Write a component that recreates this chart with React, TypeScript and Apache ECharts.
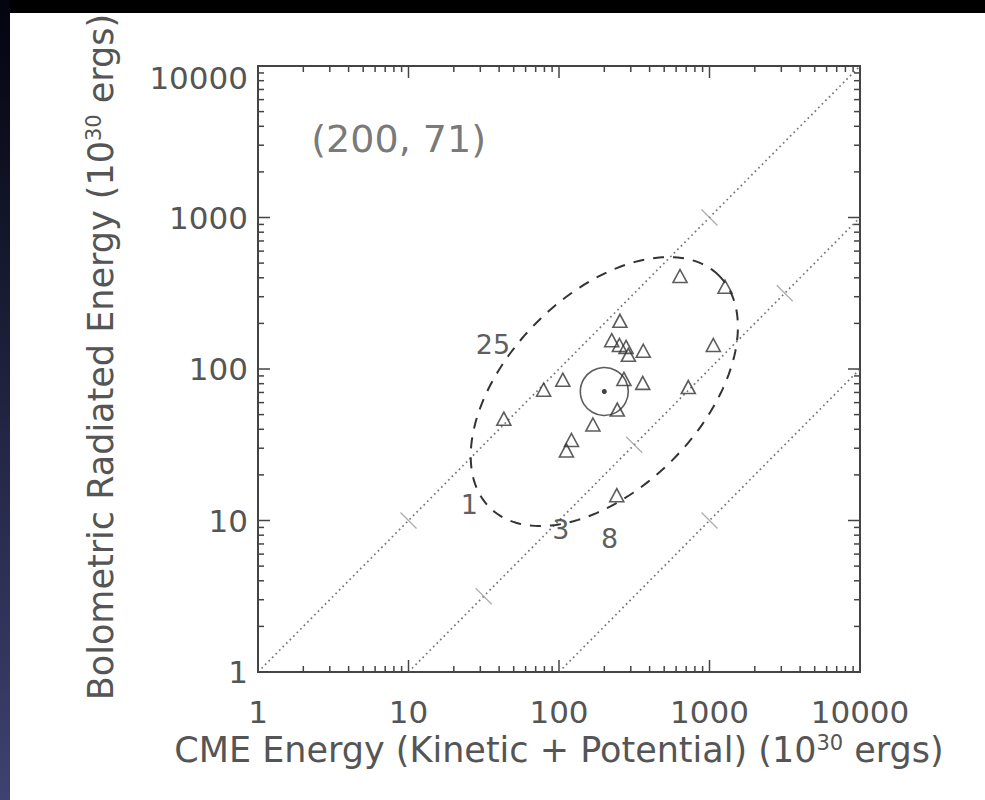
import React, { useEffect, useRef } from "react";
import * as echarts from "echarts";

// ---- axes ----
const X_TICK_VALUES = [1, 10, 100, 1000, 10000];
const Y_TICK_VALUES = [1, 10, 100, 1000, 10000];
const MINOR_MULTIPLIERS = [2, 3, 4, 5, 6, 7, 8, 9];
const DECADE_STARTS = [1, 10, 100, 1000];

// ---- events (10^30 ergs) ----
const CME_ENERGY = [43, 79, 106, 121, 112, 168, 244, 270, 360, 723, 254, 224, 252, 279, 289, 363, 637, 1268, 1060, 242];
const RADIATED_ENERGY = [47, 73, 85, 34, 29, 43, 54, 86, 81, 76, 208, 155, 144, 140, 124, 132, 411, 349, 144, 14.7];

// ---- mean ----
const MEAN_POINT = [200, 71];
const MEAN_LABEL = "(200, 71)";
const MEAN_LABEL_POS = [8.6, 3300];

// ---- ratio lines ----
const LINE_RATIO_1 = [[1, 1], [10000, 10000]];
const LINE_RATIO_10 = [[10, 1], [10000, 1000]];
const LINE_RATIO_100 = [[100, 1], [10000, 100]];
const CROSS_X = [10, 1000, 31.6, 316, 3162, 1000];
const CROSS_Y = [10, 1000, 3.16, 31.6, 316, 10];

// ---- numeric annotations ----
const NUMBER_LABELS = ["25", "1", "3", "8"];
const NUMBER_LABEL_X = [36.4, 25.4, 103, 217];
const NUMBER_LABEL_Y = [145, 12.7, 8.66, 7.66];

// ---- ellipse (in decades) ----
const ELLIPSE_SEMI_MAJOR = 1.08;
const ELLIPSE_SEMI_MINOR = 0.64;
const ELLIPSE_ANGLE_DEG = 45;

const FONT = "DejaVu Sans";
const TEXT_COLOR = "#555";
const INK = "#333";

export default function App() {
  const ref = useRef<HTMLDivElement>(null);

  useEffect(() => {
    if (!ref.current) return;
    const chart = echarts.init(ref.current, undefined, { renderer: "svg" });

    const minorTicks: number[] = [];
    DECADE_STARTS.forEach((d) => MINOR_MULTIPLIERS.forEach((m) => minorTicks.push(d * m)));

    const tickRender = (params: any, api: any) => {
      const cs = params.coordSys;
      const left = cs.x, top = cs.y, right = cs.x + cs.width, bottom = cs.y + cs.height;
      const children: any[] = [];
      const style = { stroke: "#444", lineWidth: 1.5 };
      const add = (x1: number, y1: number, x2: number, y2: number) =>
        children.push({ type: "line", shape: { x1, y1, x2, y2 }, style });
      const doX = (v: number, len: number) => {
        const px = api.coord([v, 1])[0];
        add(px, bottom, px, bottom - len);
        add(px, top, px, top + len);
      };
      const doY = (v: number, len: number) => {
        const py = api.coord([1, v])[1];
        add(left, py, left + len, py);
        add(right, py, right - len, py);
      };
      X_TICK_VALUES.forEach((v) => doX(v, 12));
      Y_TICK_VALUES.forEach((v) => doY(v, 12));
      minorTicks.forEach((v) => { doX(v, 6); doY(v, 6); });
      return { type: "group", children };
    };

    const ellipseRender = (params: any, api: any) => {
      const cx = Math.log10(api.value(0));
      const cy = Math.log10(api.value(1));
      const phi = (ELLIPSE_ANGLE_DEG * Math.PI) / 180;
      const pts: number[][] = [];
      for (let deg = 0; deg < 360; deg += 2) {
        const t = (deg * Math.PI) / 180;
        const lx = cx + ELLIPSE_SEMI_MAJOR * Math.cos(t) * Math.cos(phi) - ELLIPSE_SEMI_MINOR * Math.sin(t) * Math.sin(phi);
        const ly = cy + ELLIPSE_SEMI_MAJOR * Math.cos(t) * Math.sin(phi) + ELLIPSE_SEMI_MINOR * Math.sin(t) * Math.cos(phi);
        pts.push(api.coord([Math.pow(10, lx), Math.pow(10, ly)]));
      }
      return {
        type: "polygon",
        shape: { points: pts },
        style: { fill: "none", stroke: INK, lineWidth: 2, lineDash: [11, 9] },
      };
    };

    const dotted = (data: number[][]) => ({
      type: "line",
      data,
      symbol: "none",
      silent: true,
      lineStyle: { color: "#777", width: 1.7, type: [1.7, 3.3] },
      z: 1,
    });

    const titleRich = {
      n: { fontFamily: FONT, fontSize: 35, color: TEXT_COLOR },
      s: { fontFamily: FONT, fontSize: 21, color: TEXT_COLOR, padding: [0, 0, 14, 0] },
    };

    const option: any = {
      animation: false,
      backgroundColor: "#ffffff",
      graphic: [
        { type: "rect", left: 0, top: 0, shape: { width: 985, height: 13 }, style: { fill: "#000" }, z: 100 },
        {
          type: "rect", left: 0, top: 0, shape: { width: 10, height: 800 },
          style: {
            fill: new echarts.graphic.LinearGradient(0, 0, 0, 1, [
              { offset: 0, color: "#03040f" },
              { offset: 1, color: "#3d4270" },
            ]),
          },
          z: 100,
        },
      ],
      grid: {
        left: 258, top: 66, width: 602, height: 606,
        show: true, borderColor: "#444", borderWidth: 2, backgroundColor: "transparent",
      },
      xAxis: {
        type: "log", logBase: 10, min: 1, max: 10000,
        axisLine: { show: false }, axisTick: { show: false }, splitLine: { show: false }, minorTick: { show: false },
        axisLabel: {
          fontFamily: FONT, fontSize: 31, color: TEXT_COLOR, margin: 24,
          formatter: (v: number) => String(v),
        },
        name: "{n|CME Energy (Kinetic + Potential) (10}{s|30}{n| ergs)}",
        nameLocation: "middle", nameGap: 60,
        nameTextStyle: { rich: titleRich },
      },
      yAxis: {
        type: "log", logBase: 10, min: 1, max: 10000,
        axisLine: { show: false }, axisTick: { show: false }, splitLine: { show: false }, minorTick: { show: false },
        axisLabel: {
          fontFamily: FONT, fontSize: 31, color: TEXT_COLOR, margin: 10,
          formatter: (v: number) => (v >= 10000 ? "{t|" + v + "}" : "{n|" + v + "}"),
          rich: {
            t: { fontFamily: FONT, fontSize: 31, color: TEXT_COLOR, padding: [24, 0, 0, 0] },
            n: { fontFamily: FONT, fontSize: 31, color: TEXT_COLOR },
          },
        },
        name: "{n|Bolometric Radiated Energy (10}{s|30}{n| ergs)}",
        nameLocation: "middle", nameGap: 140, nameRotate: 90,
        nameTextStyle: { rich: titleRich, padding: [0, 0, 0, 24] },
      },
      series: [
        dotted(LINE_RATIO_1),
        dotted(LINE_RATIO_10),
        dotted(LINE_RATIO_100),
        {
          type: "scatter",
          data: CROSS_X.map((x, i) => [x, CROSS_Y[i]]),
          symbol: "path://M0,0L10,10",
          symbolSize: 16,
          itemStyle: { color: "none", borderColor: "#999", borderWidth: 1.2 },
          silent: true,
          z: 2,
        },
        {
          type: "custom",
          data: [MEAN_POINT],
          renderItem: ellipseRender,
          silent: true,
          z: 3,
        },
        {
          type: "scatter",
          data: CME_ENERGY.map((x, i) => [x, RADIATED_ENERGY[i]]),
          symbol: "triangle",
          symbolSize: [14, 13],
          itemStyle: { color: "rgba(0,0,0,0)", borderColor: INK, borderWidth: 1.6 },
          z: 4,
        },
        {
          type: "scatter",
          data: [MEAN_POINT],
          symbol: "circle",
          symbolSize: 48,
          itemStyle: { color: "rgba(0,0,0,0)", borderColor: INK, borderWidth: 1.6 },
          z: 4,
        },
        {
          type: "scatter",
          data: [MEAN_POINT],
          symbol: "circle",
          symbolSize: 5,
          itemStyle: { color: "#111" },
          z: 5,
        },
        {
          type: "scatter",
          data: NUMBER_LABELS.map((t, i) => [NUMBER_LABEL_X[i], NUMBER_LABEL_Y[i], t]),
          symbolSize: 0,
          label: {
            show: true, position: "inside", formatter: (p: any) => p.value[2],
            fontFamily: FONT, fontSize: 27, color: INK,
          },
          z: 6,
        },
        {
          type: "scatter",
          data: [[MEAN_LABEL_POS[0], MEAN_LABEL_POS[1], MEAN_LABEL]],
          symbolSize: 0,
          label: {
            show: true, position: "inside", formatter: (p: any) => p.value[2],
            fontFamily: FONT, fontSize: 38, color: TEXT_COLOR,
          },
          z: 6,
        },
        {
          type: "custom",
          data: [[1, 1]],
          renderItem: tickRender,
          silent: true,
          z: 7,
        },
      ],
    };

    chart.setOption(option);
    return () => chart.dispose();
  }, []);

  return (
    <div
      ref={ref}
      style={{ position: "absolute", left: 0, top: 0, width: 985, height: 800 }}
    />
  );
}
